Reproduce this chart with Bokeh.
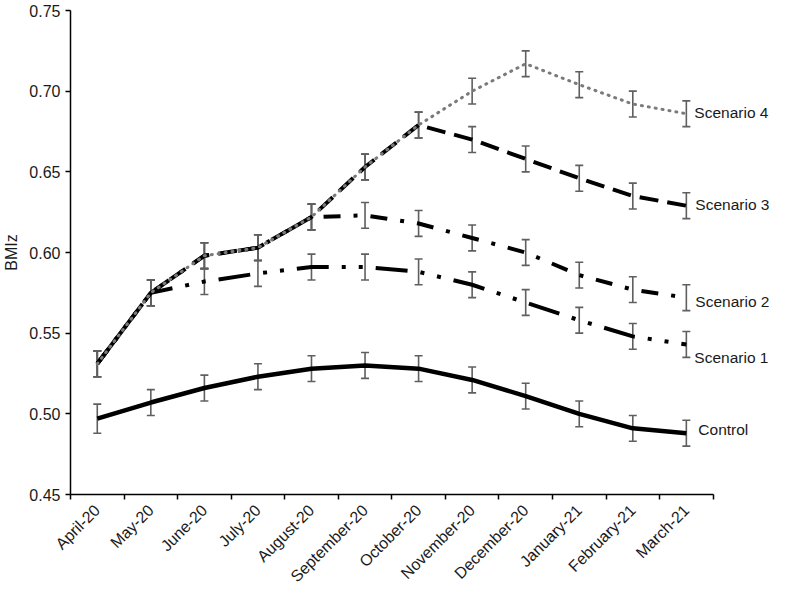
from bokeh.plotting import figure
from bokeh.models import (ColumnDataSource, Range1d, FixedTicker, NumeralTickFormatter,
                          Whisker, TeeHead, Label)
from bokeh.embed import file_html
from bokeh.resources import INLINE
from math import pi

months = ["April-20", "May-20", "June-20", "July-20", "August-20", "September-20",
          "October-20", "November-20", "December-20", "January-21", "February-21", "March-21"]

control = [0.497, 0.507, 0.516, 0.523, 0.528, 0.530, 0.528, 0.521, 0.511, 0.500, 0.491, 0.488]
scenario1 = [0.531, 0.575, 0.582, 0.587, 0.591, 0.591, 0.588, 0.580, 0.569, 0.558, 0.548, 0.543]
scenario2 = [0.531, 0.575, 0.598, 0.603, 0.622, 0.623, 0.618, 0.609, 0.600, 0.586, 0.577, 0.572]
scenario3 = [0.531, 0.575, 0.598, 0.603, 0.622, 0.653, 0.679, 0.670, 0.658, 0.646, 0.635, 0.629]
scenario4 = [0.531, 0.575, 0.598, 0.603, 0.622, 0.653, 0.679, 0.700, 0.717, 0.704, 0.692, 0.686]

control_err = [0.009, 0.008, 0.008, 0.008, 0.008, 0.008, 0.008, 0.008, 0.008, 0.008, 0.008, 0.008]
scenario_err = [0.008] * 12

y_ticks = [0.45, 0.50, 0.55, 0.60, 0.65, 0.70, 0.75]

FONT = "Liberation Sans"

n = len(months)
xs = [i + 0.5 for i in range(n)]

p = figure(width=771, height=594, output_backend="svg", toolbar_location=None,
           x_range=Range1d(0, 13.09), y_range=Range1d(0.45, 0.75),
           min_border_left=64, min_border_right=0, min_border_top=10, min_border_bottom=0)
p.outline_line_color = None
p.xgrid.visible = False
p.ygrid.visible = False
p.background_fill_color = "white"
p.border_fill_color = "white"

# x axis
xa = p.xaxis[0]
xa.ticker = FixedTicker(ticks=xs, minor_ticks=list(range(n + 1)))
xa.major_label_overrides = {x: m for x, m in zip(xs, months)}
xa.major_label_orientation = pi / 4
xa.bounds = (0, n)
xa.major_tick_out = 0
xa.major_tick_in = 0
xa.minor_tick_out = 5
xa.minor_tick_in = 0
xa.minor_tick_line_color = "black"
xa.minor_tick_line_width = 1.5
xa.axis_line_color = "black"
xa.axis_line_width = 1.5
xa.major_label_text_font = FONT
xa.major_label_text_font_size = "16px"
xa.major_label_text_color = "#1a1a1a"
xa.major_label_text_line_height = 0.8
xa.major_label_standoff = 8

# y axis
ya = p.yaxis[0]
ya.ticker = FixedTicker(ticks=y_ticks, minor_ticks=[])
ya.formatter = NumeralTickFormatter(format="0.00")
ya.major_tick_out = 5
ya.major_tick_in = 0
ya.major_tick_line_color = "black"
ya.major_tick_line_width = 1.5
ya.axis_line_color = "black"
ya.axis_line_width = 1.5
ya.major_label_text_font = FONT
ya.major_label_text_font_size = "16px"
ya.major_label_text_color = "#1a1a1a"
ya.major_label_standoff = 5
ya.axis_label = "BMIz"
ya.axis_label_text_font = FONT
ya.axis_label_text_font_size = "16px"
ya.axis_label_text_font_style = "normal"
ya.axis_label_text_color = "#1a1a1a"
ya.axis_label_standoff = 6

# lines
p.line(xs, control, line_color="black", line_width=4.5, line_join="round")
p.line(xs, scenario1, line_color="black", line_width=4, line_dash="32 13 4 13 4 13")
p.line(xs, scenario2, line_color="black", line_width=4, line_dash="17 13 4 13")
p.line(xs, scenario3, line_color="black", line_width=4, line_dash="19 9")
p.line(xs, scenario4, line_color="#7a7a7a", line_width=3, line_dash="1 6",
       line_cap="round")

# error bars
def add_err(vals, errs):
    src = ColumnDataSource(dict(x=xs, upper=[v + e for v, e in zip(vals, errs)],
                                lower=[v - e for v, e in zip(vals, errs)]))
    w = Whisker(source=src, base="x", upper="upper", lower="lower",
                line_color="#5f5f5f", line_width=1.6,
                upper_head=TeeHead(size=8, line_color="#5f5f5f", line_width=1.6),
                lower_head=TeeHead(size=8, line_color="#5f5f5f", line_width=1.6))
    p.add_layout(w)

add_err(control, control_err)
for s in (scenario1, scenario2, scenario3, scenario4):
    add_err(s, scenario_err)

# series labels
labels = [("Scenario 4", scenario4, 8, 1), ("Scenario 3", scenario3, 9, 1),
          ("Scenario 2", scenario2, 9, -4), ("Scenario 1", scenario1, 8, -13),
          ("Control", control, 12, 4)]
for text, vals, dx, dy in labels:
    p.add_layout(Label(x=xs[-1], y=vals[-1], x_offset=dx, y_offset=dy, text=text,
                       text_font=FONT, text_font_size="15.5px", text_color="#1a1a1a",
                       text_baseline="middle", text_align="left"))

open("out.html", "w").write(file_html(p, INLINE))
